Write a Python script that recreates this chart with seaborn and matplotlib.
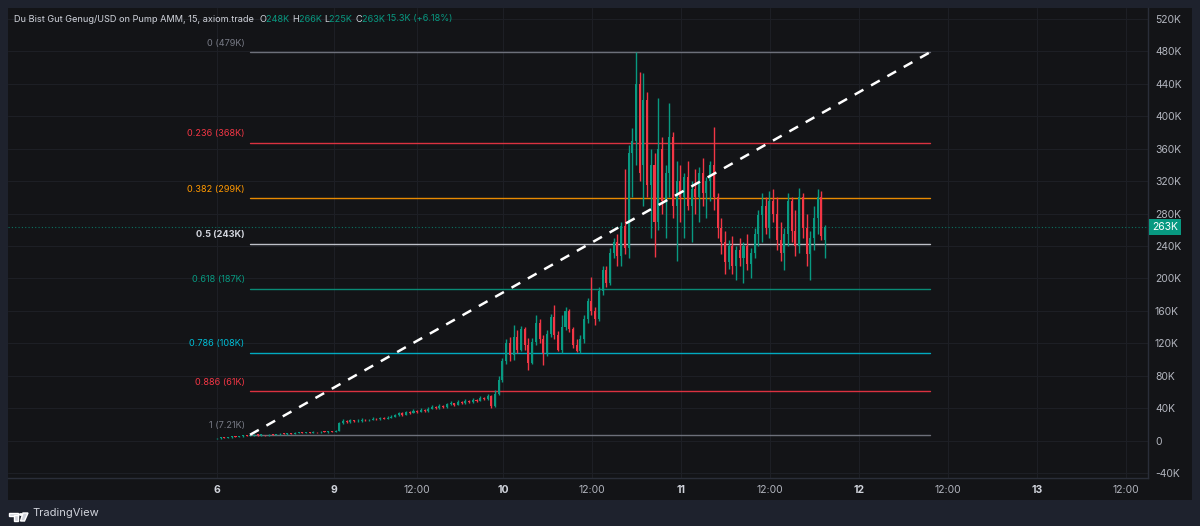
import numpy as np
import pandas as pd
import matplotlib
matplotlib.use("Agg")
import matplotlib.pyplot as plt
import seaborn as sns
from matplotlib.patches import Rectangle, Polygon, Circle
import matplotlib.transforms as mtransforms

# ---------------- data (prices in K USD) ----------------
opens = [2.8, 3.2, 4.0, 3.6, 4.5, 5.1, 4.8, 5.5, 6.0, 5.7, 6.3, 7.2, 6.8, 7.0, 6.6, 7.4, 7.1, 7.8, 8.5, 8.2,
         9.0, 8.7, 9.4, 10.1, 9.6, 10.3, 9.9, 10.6, 10.2, 11.0, 10.5, 11.3, 10.8,
         12.0, 21.5, 24.0, 22.8, 25.1, 23.6, 24.4, 26.0, 24.9, 25.7, 27.2, 26.1, 27.8, 26.9, 28.4, 29.6,
         31.0, 33.5, 32.0, 35.2, 34.1, 36.8, 35.5, 38.0, 36.4, 39.5, 41.8, 40.2, 43.0, 41.5, 44.6, 46.0,
         44.1, 47.3, 45.8, 49.0, 47.6, 50.5, 48.9, 52.8, 51.0, 55.5,
         43.0, 58, 75, 98,
         121, 105, 128, 112, 138, 118, 96, 122, 145, 125, 108, 132, 152, 130, 112, 140, 160, 138, 118,
         110, 125, 150, 172, 160, 150, 185, 210, 195, 232, 245,
         228, 265, 238, 355, 370, 440, 340, 420, 315, 340, 270, 360, 295, 330, 375, 290,
         320, 300, 325, 290, 310, 300, 330, 305, 320, 340, 300,
         262, 245, 220, 240, 215, 235, 225, 240, 218, 232, 255,
         278, 290, 262, 295, 280, 248, 232, 255, 295, 258, 240, 300, 262, 230, 250, 275, 300, 248]
highs = [3.8, 4.6, 4.5, 5.0, 5.8, 5.6, 6.2, 6.7, 6.5, 7.0, 7.9, 7.6, 7.6, 7.4, 8.1, 7.9, 8.5, 9.2, 9.0, 9.7,
         9.4, 10.1, 10.8, 10.5, 11.0, 10.7, 11.3, 11.0, 11.7, 11.4, 12.0, 11.8, 12.8,
         23.0, 26.5, 25.5, 26.8, 26.0, 26.2, 27.5, 27.0, 27.2, 29.0, 28.5, 29.5, 29.0, 30.2, 31.5, 33.0,
         35.5, 35.2, 37.0, 36.5, 38.5, 38.0, 39.8, 39.0, 41.5, 44.0, 43.0, 45.2, 44.0, 46.5, 48.5, 47.0,
         49.5, 48.5, 51.2, 50.0, 52.8, 51.5, 55.0, 54.0, 57.5, 56.5,
         62, 80, 102, 125,
         128, 143, 136, 141, 140, 126, 127, 155, 150, 130, 136, 156, 167, 135, 155, 165, 162, 140, 125,
         130, 155, 176, 202, 165, 190, 215, 215, 238, 250, 255,
         270, 335, 365, 385, 479, 455, 453, 430, 360, 355, 422, 375, 340, 416, 381, 345,
         340, 330, 345, 320, 335, 338, 348, 325, 345, 387, 305,
         275, 258, 248, 252, 240, 250, 245, 255, 238, 262, 285,
         305, 300, 308, 310, 300, 270, 262, 305, 300, 285, 312, 305, 280, 258, 290, 310, 308, 266]
lows = [2.2, 2.6, 3.0, 3.0, 3.6, 4.3, 4.1, 4.9, 5.2, 5.1, 5.7, 6.3, 6.2, 6.1, 6.0, 6.6, 6.5, 7.2, 7.6, 7.5,
        8.3, 8.0, 8.8, 9.2, 8.9, 9.6, 9.3, 9.9, 9.6, 10.3, 9.9, 10.6, 10.2,
        11.5, 20.0, 21.8, 21.5, 22.8, 22.9, 23.5, 24.0, 24.2, 25.0, 25.5, 25.5, 26.2, 26.5, 27.8, 28.8,
        30.5, 30.8, 31.2, 33.2, 33.5, 34.6, 34.8, 35.6, 35.8, 39.0, 39.4, 39.5, 40.8, 40.8, 43.5, 43.3,
        43.5, 45.0, 45.2, 47.0, 46.8, 48.2, 48.3, 50.2, 50.3, 40.5,
        41, 56, 72, 95,
        98, 100, 108, 110, 112, 87, 94, 118, 120, 93, 104, 128, 125, 110, 108, 136, 134, 114, 109,
        108, 120, 145, 155, 143, 148, 180, 190, 192, 225, 215,
        215, 230, 225, 300, 340, 320, 290, 300, 250, 226, 260, 280, 250, 300, 275, 221,
        270, 250, 285, 245, 280, 270, 290, 275, 295, 285, 250,
        230, 205, 212, 205, 198, 215, 195, 210, 200, 225, 240,
        245, 255, 250, 270, 235, 222, 210, 240, 245, 228, 232, 250, 215, 198, 235, 255, 248, 225]
closes = [3.2, 4.0, 3.6, 4.5, 5.1, 4.8, 5.5, 6.0, 5.7, 6.3, 7.2, 6.8, 7.0, 6.6, 7.4, 7.1, 7.8, 8.5, 8.2, 9.0,
          8.7, 9.4, 10.1, 9.6, 10.3, 9.9, 10.6, 10.2, 11.0, 10.5, 11.3, 10.8, 12.0,
          21.5, 24.0, 22.8, 25.1, 23.6, 24.4, 26.0, 24.9, 25.7, 27.2, 26.1, 27.8, 26.9, 28.4, 29.6, 31.0,
          33.5, 32.0, 35.2, 34.1, 36.8, 35.5, 38.0, 36.4, 39.5, 41.8, 40.2, 43.0, 41.5, 44.6, 46.0, 44.1,
          47.3, 45.8, 49.0, 47.6, 50.5, 48.9, 52.8, 51.0, 55.5, 43.0,
          58, 75, 98, 121,
          105, 128, 112, 138, 118, 96, 122, 145, 125, 108, 132, 152, 130, 112, 140, 160, 138, 118, 110,
          125, 150, 172, 160, 150, 185, 210, 195, 232, 245, 228,
          265, 238, 355, 370, 440, 330, 420, 315, 340, 270, 360, 295, 330, 375, 290, 320,
          300, 325, 290, 310, 300, 330, 305, 320, 340, 300, 262,
          245, 220, 240, 215, 235, 225, 240, 218, 232, 255, 278,
          290, 262, 295, 280, 248, 232, 255, 295, 258, 240, 300, 262, 230, 250, 275, 300, 252, 263]

first_bar_day = 8.393          # time of first bar (in day units of the axis)
bar_days = 1 / 48              # 30-minute bars

fib_t0, fib_t1 = 8.579, 12.399  # fib tool anchor times
fib_low, fib_high = 7.21, 479.0
fib_ratios = [0, 0.236, 0.382, 0.5, 0.618, 0.786, 0.886, 1]
fib_colors = ["#787b86", "#f23645", "#ff9800", "#d1d4dc", "#089981", "#00bcd4", "#f23645", "#787b86"]

last_price = 263.0
xtick_pos = [8.393, 9.051, 9.517, 10.0, 10.5, 11.0, 11.5, 12.0, 12.5, 13.0, 13.5]
xtick_lab = ["6", "9", "12:00", "10", "12:00", "11", "12:00", "12", "12:00", "13", "12:00"]
ytick_vals = list(range(-40, 521, 40))

title_parts = [("Du Bist Gut Genug/USD on Pump AMM, 15, axiom.trade  ", "#d1d4dc"),
               ("O", "#d1d4dc"), ("248K ", "#089981"), ("H", "#d1d4dc"), ("266K ", "#089981"),
               ("L", "#d1d4dc"), ("225K ", "#089981"), ("C", "#d1d4dc"), ("263K ", "#089981"),
               ("15.3K (+6.18%)", "#089981")]

# ---------------- style ----------------
FRAME = "#1e222d"
PANEL = "#131417"
GRID = "#1d1f25"
TXT = "#b2b5be"
UP, DOWN = "#089981", "#f23645"

sns.set_theme(style="dark")
plt.rcParams["font.family"] = ["Inter", "DejaVu Sans"]

W, H = 1200, 526
fig = plt.figure(figsize=(W / 100, H / 100), dpi=100, facecolor=FRAME)
fig.patches.append(Rectangle((8 / W, 1 - 500 / H), (1192 - 8) / W, (500 - 8) / H,
                             transform=fig.transFigure, facecolor=PANEL, edgecolor="none", zorder=-5))
ax = fig.add_axes([8 / W, 1 - 478 / H, (1148 - 8) / W, (478 - 8) / H])
ax.set_facecolor(PANEL)
ax.set_zorder(1)

df = pd.DataFrame({"open": opens, "high": highs, "low": lows, "close": closes})
df["t"] = first_bar_day + np.arange(len(df)) * bar_days
df["color"] = np.where(df["close"] >= df["open"], UP, DOWN)

# grid
ax.set_xticks(xtick_pos)
ax.set_yticks(ytick_vals)
ax.grid(True, color=GRID, lw=0.8)
ax.set_axisbelow(True)

# fib levels
fib_rows = []
for r, c in zip(fib_ratios, fib_colors):
    p = fib_high - r * (fib_high - fib_low)
    fib_rows += [{"t": fib_t0, "p": p, "lvl": str(r)}, {"t": fib_t1, "p": p, "lvl": str(r)}]
fib_df = pd.DataFrame(fib_rows)
sns.lineplot(data=fib_df, x="t", y="p", hue="lvl", palette=dict(zip([str(r) for r in fib_ratios], fib_colors)),
             lw=1.0, alpha=0.9, legend=False, ax=ax, zorder=2)
for r, c in zip(fib_ratios, fib_colors):
    p = fib_high - r * (fib_high - fib_low)
    lab = f"{r:g} ({p:.3g}K)"
    ax.annotate(lab, (fib_t0, p), xytext=(-4, 6.5), textcoords="offset points", ha="right", va="center",
                color=c, fontsize=6.6, fontweight="bold" if r == 0.5 else "normal", zorder=3)

# last price dotted line
ax.axhline(last_price, color=UP, lw=0.8, ls=(0, (1, 2)), alpha=0.7, zorder=1)

# candles
ax.vlines(df["t"], df["low"], df["high"], colors=df["color"], lw=1.0, zorder=4)
body = (df["close"] - df["open"]).abs().clip(lower=0.9)
ax.bar(df["t"], body, bottom=df[["open", "close"]].min(axis=1), width=bar_days * 0.55,
       color=df["color"], edgecolor="none", zorder=5)

# trend (dashed) line
trend = pd.DataFrame({"t": [fib_t0, fib_t1], "p": [fib_low, fib_high]})
sns.lineplot(data=trend, x="t", y="p", color="#ffffff", lw=1.8, ax=ax, zorder=6,
             linestyle=(0, (4, 3.5)))

ax.set_xlim(7.219, 13.624)
ax.set_ylim(-46.1, 533.6)

# axes styling
for s in ["top", "left"]:
    ax.spines[s].set_visible(False)
for s in ["right", "bottom"]:
    ax.spines[s].set_color("#2a2e39")
    ax.spines[s].set_linewidth(1)
ax.yaxis.tick_right()
ax.tick_params(axis="y", length=0, pad=5, labelsize=7.5, labelcolor=TXT)
ax.tick_params(axis="x", length=0, pad=5, labelsize=7.5, labelcolor=TXT)
ax.set_yticks(ytick_vals)
ax.set_yticklabels([("0" if v == 0 else f"{v}K") for v in ytick_vals])
ax.set_xticks(xtick_pos)
ax.set_xticklabels(xtick_lab)
for t in ax.get_xticklabels():
    if ":" not in t.get_text():
        t.set_fontweight("bold")
        t.set_color("#d1d4dc")
ax.set_xlabel("")
ax.set_ylabel("")

# last price tag
trans = mtransforms.blended_transform_factory(ax.transAxes, ax.transData)
ax.text(1.0035, last_price, f"{last_price:.0f}K", transform=trans, ha="left", va="center", fontsize=7.5,
        color="white", zorder=10, clip_on=False,
        bbox=dict(boxstyle="square,pad=0.28", facecolor="#089981", edgecolor="none"))

# title
fig.canvas.draw()
r = fig.canvas.get_renderer()
x = 14
for txt, col in title_parts:
    t = fig.text(x / W, 1 - 19 / H, txt, color=col, fontsize=6.6, va="center", ha="left", zorder=5)
    bb = t.get_window_extent(renderer=r)
    x += bb.width

# TradingView logo
fig.patches.append(Rectangle((9 / W, 1 - 516 / H), 9 / W, 3 / H, transform=fig.transFigure, facecolor="#d1d4dc"))
fig.patches.append(Rectangle((14 / W, 1 - 521 / H), 3.5 / W, 6 / H, transform=fig.transFigure, facecolor="#d1d4dc"))
fig.patches.append(Circle((21 / W, 1 - 514.5 / H), 1.6 / W, transform=fig.transFigure, facecolor="#d1d4dc"))
fig.patches.append(Polygon([(23 / W, 1 - 513 / H), (28 / W, 1 - 513 / H), (24.5 / W, 1 - 521 / H), (20.5 / W, 1 - 521 / H)],
                           closed=True, transform=fig.transFigure, facecolor="#d1d4dc"))
fig.text(32 / W, 1 - 513 / H, "TradingView", color="#d1d4dc", fontsize=8, va="center", ha="left")

fig.savefig("out.png", dpi=100, facecolor=FRAME)
